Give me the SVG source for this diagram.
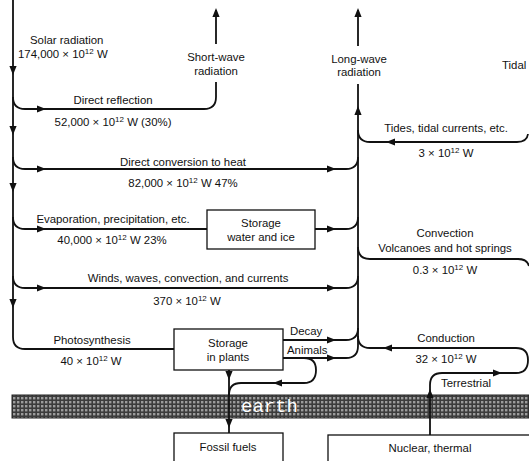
<svg xmlns="http://www.w3.org/2000/svg" xmlns:xlink="http://www.w3.org/1999/xlink" width="529" height="461" viewBox="0 0 529 461">
<style>
text{font-family:"Liberation Sans",Arial,sans-serif;font-size:11.4px;fill:#111}
.m{text-anchor:middle}
.sup{font-size:8px}
.ln{fill:none;stroke:#111;stroke-width:1.8}
.box{fill:#fff;stroke:#111;stroke-width:1.3}
.earth{font-family:"Liberation Mono","Courier New",monospace;font-size:19px;fill:#fff}
</style>
<defs>
<path id="ah" d="M0,0 L-9,-3.6 L-9,3.6 Z" fill="#111"/>
<pattern id="hatch" width="4" height="4" patternUnits="userSpaceOnUse">
<rect width="4" height="4" fill="#3c3c3c"/>
<rect x="1" y="1" width="2.4" height="2.4" fill="#9c9c9c"/>
</pattern>
</defs>
<rect x="12" y="395" width="517" height="23" fill="url(#hatch)" stroke="#222" stroke-width="1"/>
<text class="earth" x="241" y="412">earth</text>
<g id="connectors">
<path class="ln" d="M13,0 V337 Q13,349 25,349 H174"/>
<path class="ln" d="M13,97 Q13,109 25,109 H204 Q216,109 216,97 V82"/>
<path class="ln" d="M216,44 V10"/>
<path class="ln" d="M13,157 Q13,169 25,169 H346 Q358,169 358,157"/>
<path class="ln" d="M13,217 Q13,229 25,229 H207"/>
<path class="ln" d="M315,229 H346 Q358,229 358,217"/>
<path class="ln" d="M13,276 Q13,288 25,288 H346 Q358,288 358,276"/>
<path class="ln" d="M358,346 V84"/>
<path class="ln" d="M358,46 V10"/>
<path class="ln" d="M528,134 Q527,142 517,142 H370 Q358,142 358,130"/>
<path class="ln" d="M358,247 Q358,259 370,259 H518 Q527,259 529,266"/>
<path class="ln" d="M283,340 H346 Q358,340 358,328"/>
<path class="ln" d="M283,358 H346 Q358,358 358,346"/>
<path class="ln" d="M358,336 Q358,348 370,348 H516 Q528,348 528,360 Q528,373 516,373 H442 Q430,373 430,385 V435"/>
<path class="ln" d="M229,370 V433"/>
<path class="ln" d="M304,358 Q316,358 316,370 Q316,383 304,383 H241 Q229,383 229,395"/>
<use xlink:href="#ah" transform="translate(216,8) rotate(-90)"/>
<use xlink:href="#ah" transform="translate(358,8) rotate(-90)"/>
<use xlink:href="#ah" transform="translate(358,106) rotate(-90)"/>
<use xlink:href="#ah" transform="translate(13,75) rotate(90)"/>
<use xlink:href="#ah" transform="translate(13,135) rotate(90)"/>
<use xlink:href="#ah" transform="translate(13,192) rotate(90)"/>
<use xlink:href="#ah" transform="translate(13,308) rotate(90)"/>
<use xlink:href="#ah" transform="translate(46,109)"/>
<use xlink:href="#ah" transform="translate(46,169)"/>
<use xlink:href="#ah" transform="translate(46,229)"/>
<use xlink:href="#ah" transform="translate(46,288)"/>
<use xlink:href="#ah" transform="translate(336,169)"/>
<use xlink:href="#ah" transform="translate(336,229)"/>
<use xlink:href="#ah" transform="translate(336,288)"/>
<use xlink:href="#ah" transform="translate(336,340)"/>
<use xlink:href="#ah" transform="translate(336,358)"/>
<use xlink:href="#ah" transform="translate(386,142) rotate(180)"/>
<use xlink:href="#ah" transform="translate(383,348) rotate(180)"/>
<use xlink:href="#ah" transform="translate(502,373)"/>
<use xlink:href="#ah" transform="translate(430,389) rotate(-90)"/>
<use xlink:href="#ah" transform="translate(273,383) rotate(180)"/>
<use xlink:href="#ah" transform="translate(229,380) rotate(90)"/>
<use xlink:href="#ah" transform="translate(229,428) rotate(90)"/>
</g>
<g id="labels">
<text x="30" y="44">Solar radiation</text>
<text x="18" y="58">174,000 × 10<tspan class="sup" dy="-4">12</tspan><tspan dy="4"> W</tspan></text>
<text class="m" x="216" y="61">Short-wave</text>
<text class="m" x="216" y="75">radiation</text>
<text class="m" x="359" y="63">Long-wave</text>
<text class="m" x="359" y="76">radiation</text>
<text x="502" y="69">Tidal</text>
<text class="m" x="113" y="104">Direct reflection</text>
<text class="m" x="113" y="126">52,000 × 10<tspan class="sup" dy="-4">12</tspan><tspan dy="4"> W (30%)</tspan></text>
<text class="m" x="446" y="132">Tides, tidal currents, etc.</text>
<text class="m" x="446" y="157">3 × 10<tspan class="sup" dy="-4">12</tspan><tspan dy="4"> W</tspan></text>
<text class="m" x="183" y="166">Direct conversion to heat</text>
<text class="m" x="183" y="187">82,000 × 10<tspan class="sup" dy="-4">12</tspan><tspan dy="4"> W 47%</tspan></text>
<text class="m" x="113" y="223">Evaporation, precipitation, etc.</text>
<text class="m" x="112" y="244">40,000 × 10<tspan class="sup" dy="-4">12</tspan><tspan dy="4"> W 23%</tspan></text>
<text class="m" x="445" y="237">Convection</text>
<text class="m" x="445" y="252">Volcanoes and hot springs</text>
<text class="m" x="445" y="274">0.3 × 10<tspan class="sup" dy="-4">12</tspan><tspan dy="4"> W</tspan></text>
<text class="m" x="188" y="282">Winds, waves, convection, and currents</text>
<text class="m" x="187" y="305">370 × 10<tspan class="sup" dy="-4">12</tspan><tspan dy="4"> W</tspan></text>
<text class="m" x="92" y="344">Photosynthesis</text>
<text class="m" x="91" y="365">40 × 10<tspan class="sup" dy="-4">12</tspan><tspan dy="4"> W</tspan></text>
<text x="290" y="335">Decay</text>
<text x="287" y="354">Animals</text>
<text class="m" x="446" y="342">Conduction</text>
<text class="m" x="446" y="363">32 × 10<tspan class="sup" dy="-4">12</tspan><tspan dy="4"> W</tspan></text>
<text class="m" x="466" y="387">Terrestrial</text>
</g>
<g id="storage-water">
<rect class="box" x="207" y="210" width="108" height="39"/>
<text class="m" x="261" y="227">Storage</text>
<text class="m" x="261" y="241">water and ice</text>
</g>
<g id="storage-plants">
<rect class="box" x="174" y="329" width="109" height="41"/>
<text class="m" x="228" y="347">Storage</text>
<text class="m" x="228" y="361">in plants</text>
</g>
<g id="fossil-fuels">
<rect class="box" x="174" y="433" width="109" height="40"/>
<text class="m" x="228" y="451">Fossil fuels</text>
</g>
<g id="nuclear">
<rect class="box" x="328" y="435" width="220" height="40"/>
<text class="m" x="430" y="452">Nuclear, thermal</text>
</g>
</svg>
